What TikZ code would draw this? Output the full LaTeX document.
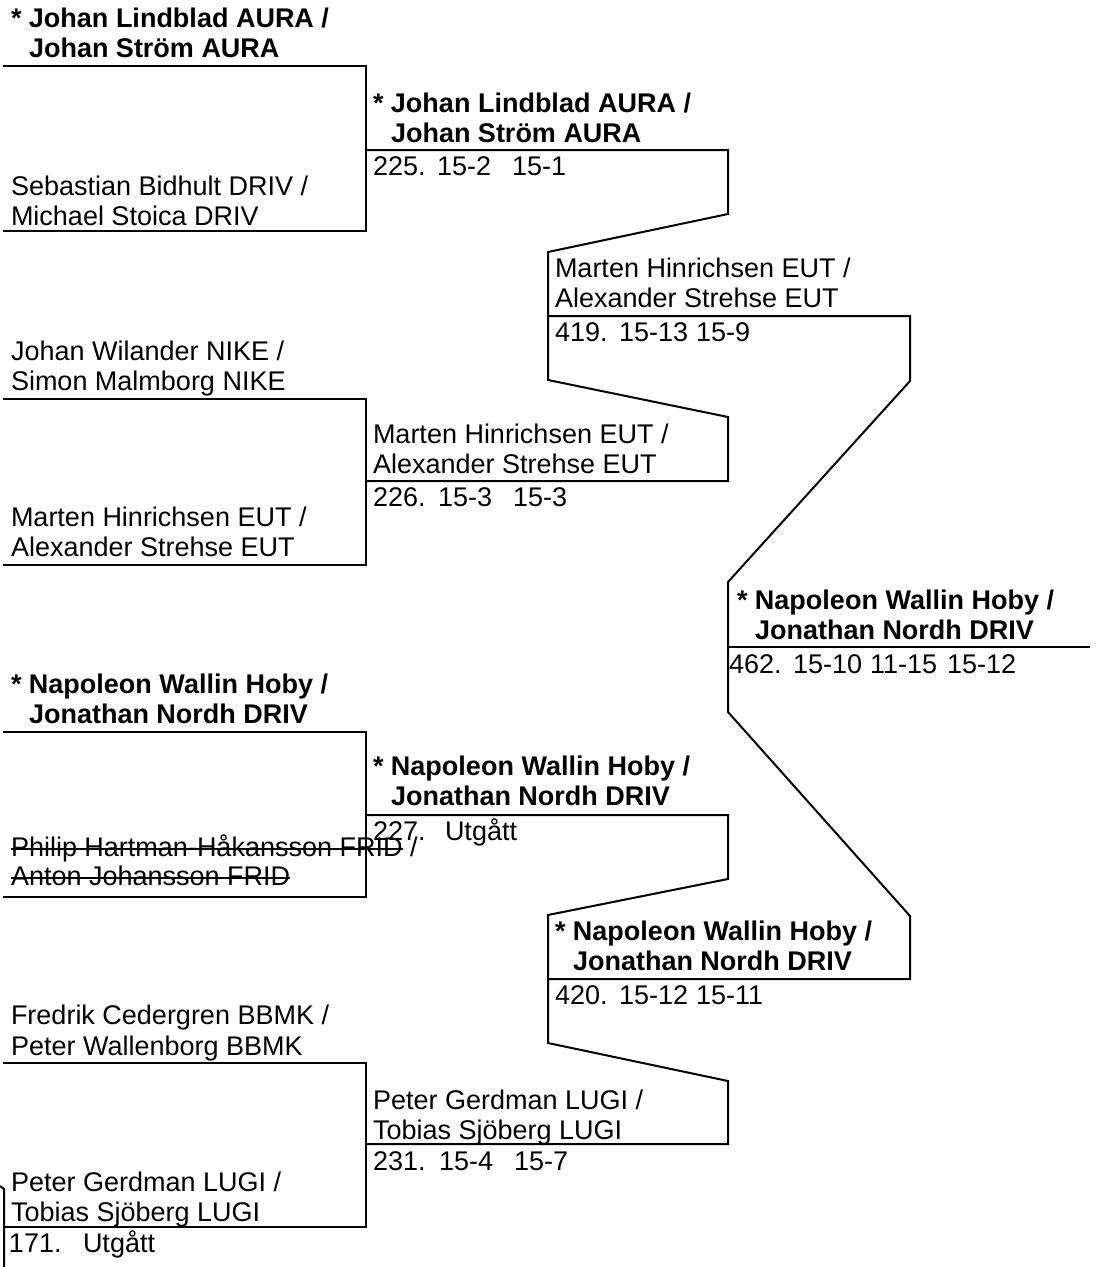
\documentclass[tikz,border=0pt]{standalone}
\usepackage{fontspec}
\setmainfont{Liberation Sans}
\begin{document}
\begin{tikzpicture}[x=1pt,y=-1pt,
  ln/.style={line width=2pt, line join=miter},
  tx/.style={inner sep=0pt, outer sep=0pt, anchor=base west, font=\fontsize{27pt}{30pt}\selectfont},
  bx/.style={tx, font=\fontsize{27pt}{30pt}\selectfont\bfseries},
  strike/.style={line width=1.6pt}]
\useasboundingbox[fill=white] (0,0) rectangle (1101,1267);

% ---------- round 1 brackets ----------
\draw[ln] (3,66) -- (366,66) -- (366,231) -- (3,231);
\draw[ln] (3,399) -- (366,399) -- (366,565) -- (3,565);
\draw[ln] (3,732) -- (366,732) -- (366,897) -- (3,897);
\draw[ln] (3,1063) -- (366,1063) -- (366,1227) -- (3,1227);
% previous round remnant
\draw[ln] (0,1186) -- (4,1189) -- (4,1267);

% ---------- round 2 lines ----------
\draw[ln] (366,150) -- (728,150) -- (728,214) -- (548,252) -- (548,380) -- (728,417) -- (728,481) -- (366,481);
\draw[ln] (366,815) -- (728,815) -- (728,879) -- (548,915) -- (548,1043) -- (728,1081) -- (728,1144) -- (366,1144);

% ---------- round 3 lines ----------
\draw[ln] (548,316) -- (910,316) -- (910,381) -- (728,582) -- (728,712) -- (910,916) -- (910,979) -- (548,979);

% ---------- final ----------
\draw[ln] (728,647) -- (1090,647);

% ---------- round 1 texts ----------
\node[bx] (s1a) at (11,27) {* Johan Lindblad AURA /};
\node[bx] (s1b) at (29,57) {Johan Ström AURA};
\node[tx] (s2a) at (11,195) {Sebastian Bidhult DRIV /};
\node[tx] (s2b) at (11,225) {Michael Stoica DRIV};
\node[tx] (s3a) at (11,360) {Johan Wilander NIKE /};
\node[tx] (s3b) at (11,390) {Simon Malmborg NIKE};
\node[tx] (s4a) at (11,526) {Marten Hinrichsen EUT /};
\node[tx] (s4b) at (11,556) {Alexander Strehse EUT};
\node[bx] (s5a) at (11,693) {* Napoleon Wallin Hoby /};
\node[bx] (s5b) at (29,723) {Jonathan Nordh DRIV};
\node[tx] (s6a) at (11,856) {Philip Hartman-Håkansson FRID};
\node[tx] (s6as) at (s6a.base east) {\ /};
\node[tx] (s6b) at (11,885) {Anton Johansson FRID};
\draw[strike] ([yshift=7pt]s6a.base west) -- ([yshift=7pt]s6a.base east);
\draw[strike] ([yshift=7pt]s6b.base west) -- ([yshift=7pt]s6b.base east);
\node[tx] (s7a) at (11,1024) {Fredrik Cedergren BBMK /};
\node[tx] (s7b) at (11,1055) {Peter Wallenborg BBMK};
\node[tx] (s8a) at (11,1191) {Peter Gerdman LUGI /};
\node[tx] (s8b) at (11,1221) {Tobias Sjöberg LUGI};
\node[tx] (m171a) at (9,1252) {171.};
\node[tx] (m171b) at (83,1252) {Utgått};

% ---------- round 2 texts ----------
\node[bx] (m225a) at (373,112) {* Johan Lindblad AURA /};
\node[bx] (m225b) at (391,142) {Johan Ström AURA};
\node[tx] (m225c) at (373,175) {225.};
\node[tx] (m225d) at (437,175) {15-2};
\node[tx] (m225e) at (512,175) {15-1};

\node[tx] (m226a) at (373,443) {Marten Hinrichsen EUT /};
\node[tx] (m226b) at (373,473) {Alexander Strehse EUT};
\node[tx] (m226c) at (373,506) {226.};
\node[tx] (m226d) at (438,506) {15-3};
\node[tx] (m226e) at (513,506) {15-3};

\node[bx] (m227a) at (373,775) {* Napoleon Wallin Hoby /};
\node[bx] (m227b) at (391,805) {Jonathan Nordh DRIV};
\node[tx] (m227c) at (373,840) {227.};
\node[tx] (m227d) at (445,840) {Utgått};

\node[tx] (m231a) at (373,1109) {Peter Gerdman LUGI /};
\node[tx] (m231b) at (373,1139) {Tobias Sjöberg LUGI};
\node[tx] (m231c) at (373,1170) {231.};
\node[tx] (m231d) at (439,1170) {15-4};
\node[tx] (m231e) at (514,1170) {15-7};

% ---------- round 3 texts ----------
\node[tx] (m419a) at (555,277) {Marten Hinrichsen EUT /};
\node[tx] (m419b) at (555,307) {Alexander Strehse EUT};
\node[tx] (m419c) at (555,341) {419.};
\node[tx] (m419d) at (619,341) {15-13};
\node[tx] (m419e) at (696,341) {15-9};

\node[bx] (m420a) at (555,940) {* Napoleon Wallin Hoby /};
\node[bx] (m420b) at (573,970) {Jonathan Nordh DRIV};
\node[tx] (m420c) at (555,1004) {420.};
\node[tx] (m420d) at (619,1004) {15-12};
\node[tx] (m420e) at (696,1004) {15-11};

% ---------- final texts ----------
\node[bx] (m462a) at (737,609) {* Napoleon Wallin Hoby /};
\node[bx] (m462b) at (755,639) {Jonathan Nordh DRIV};
\node[tx] (m462c) at (729,673) {462.};
\node[tx] (m462d) at (793,673) {15-10};
\node[tx] (m462e) at (870,673) {11-15};
\node[tx] (m462f) at (947,673) {15-12};
\end{tikzpicture}
\end{document}
